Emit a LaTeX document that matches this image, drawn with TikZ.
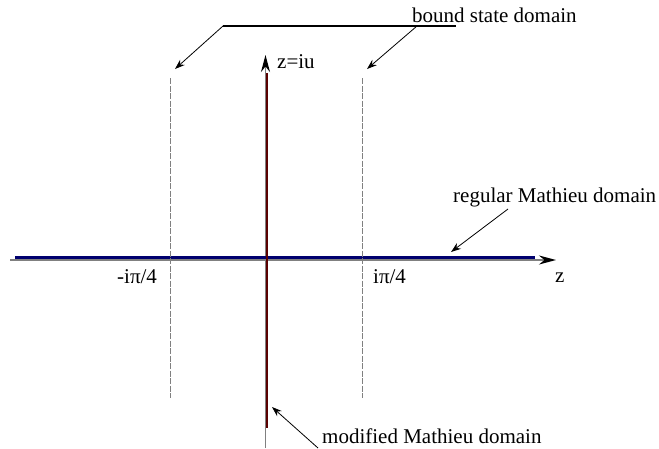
\documentclass[tikz,border=0pt]{standalone}
\usepackage{fontspec}
\setmainfont{Liberation Serif}
\usepackage{tikz}
\usetikzlibrary{arrows.meta}
\definecolor{axisgray}{RGB}{128,128,128}
\definecolor{regblue}{RGB}{0,0,110}
\definecolor{modred}{RGB}{90,0,0}
\tikzstyle{axis}=[draw=axisgray,line width=1.5pt,-{Stealth[length=17pt,width=9pt,color=black]}]
\tikzstyle{domline}=[dash pattern=on 6pt off 1.5pt,draw=axisgray,line width=1pt]
\tikzstyle{lbl}=[inner sep=0pt,anchor=base west,font=\fontsize{21}{25}\selectfont]
\tikzstyle{pointer}=[draw=black,line width=0.8pt,-{Stealth[length=10pt,width=7pt]}]

\begin{document}
\begin{tikzpicture}[x=1pt,y=-1pt]
      \useasboundingbox (0,0) rectangle (659,448);
      % axes
      \coordinate (xl) at (10,260);
      \coordinate (xr) at (556,260);
      \coordinate (yb) at (265.5,448);
      \coordinate (yt) at (265.5,55);
      \draw[axis] (xl) -- (xr);
      \draw[axis] (yb) -- (yt);
      \draw[regblue,line width=2.2pt] (15,257.5) -- (535,257.5);
      \draw[modred,line width=2pt] (267.3,73) -- (267.3,428);
      % bound state strip
      \coordinate (dlt) at (170,78);
      \coordinate (dlb) at (170,398);
      \coordinate (drt) at (362,78);
      \coordinate (drb) at (362,398);
      \draw[domline] (dlt) -- (dlb);
      \draw[domline] (drt) -- (drb);
      % labels
      \node[lbl] at (117,283) (mpi) {-iπ/4};
      \node[lbl] at (373,283) (ppi) {iπ/4};
      \node[lbl] at (555,282) (zr) {z};
      \node[lbl] at (277,68) (ziu) {z=iu};
      \node[lbl] at (412,22) (bsd) {bound state domain};
      \node[lbl] at (453,202) (rmd) {regular Mathieu domain};
      \node[lbl] at (322,443) (mmd) {modified Mathieu domain};
      % pointers
      \coordinate (bsl) at (223,26);
      \coordinate (bsm) at (417,26);
      \coordinate (bsr) at (456,26);
      \coordinate (tl) at (175,69);
      \coordinate (tr) at (367,69);
      \draw[line width=1.2pt] (bsl) -- (bsr);
      \draw[pointer] (bsl) -- (tl);
      \draw[pointer] (bsm) -- (tr);
      \coordinate (rms) at (508,209);
      \coordinate (rmt) at (451,252);
      \draw[pointer] (rms) -- (rmt);
      \coordinate (mms) at (318,448);
      \coordinate (mmt) at (272,407);
      \draw[pointer] (mms) -- (mmt);
    \end{tikzpicture}
\end{document}
